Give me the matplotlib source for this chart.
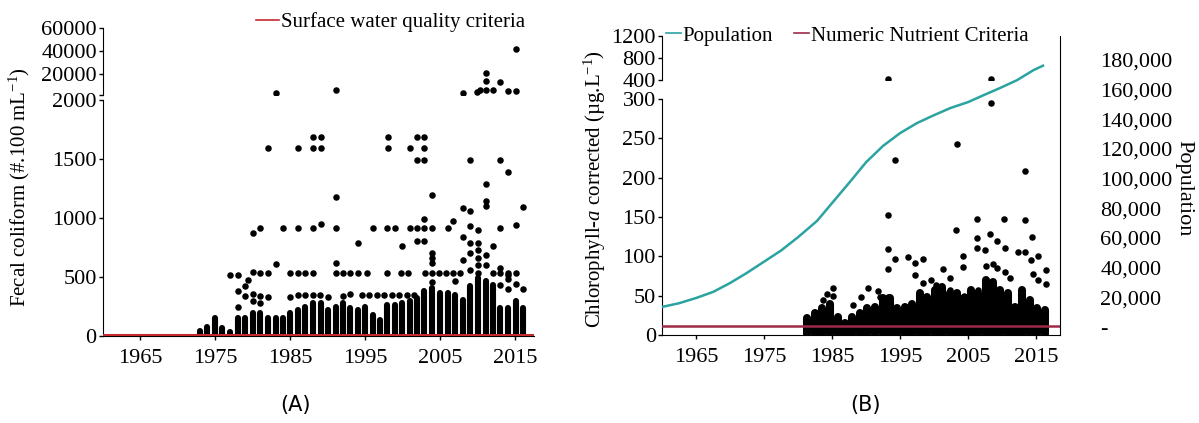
import matplotlib
matplotlib.use("Agg")
import matplotlib.pyplot as plt
from matplotlib.lines import Line2D
from matplotlib.ticker import FuncFormatter

plt.rcParams['font.family'] = ['Liberation Serif', 'DejaVu Serif']
plt.rcParams['mathtext.fontset'] = 'custom'
plt.rcParams['mathtext.rm'] = 'Liberation Serif'
plt.rcParams['mathtext.it'] = 'Liberation Serif:italic'

W, H = 1199, 423

# ---- panel A : fecal coliform ----
fc_criteria = 10
# dense stacks of samples, top of each yearly column
fc_col_year = [1972.9, 1973.9, 1974.9, 1975.9, 1976.9, 1978.0, 1978.9, 1980.0, 1980.9, 1982.0,
               1983.1, 1984.0, 1984.9, 1986.0, 1986.9, 1988.0, 1989.1, 1990.0, 1991.1, 1992.0,
               1992.9, 1994.0, 1994.9, 1996.0, 1996.9, 1997.9, 1998.9, 1999.9, 2000.9, 2001.9,
               2002.8, 2003.9, 2004.9, 2006.0, 2006.9, 2008.0, 2008.9, 2010.0, 2011.1, 2012.0,
               2012.9, 2014.0, 2015.1, 2016.0]
fc_col_top = [40, 75, 150, 70, 30, 150, 150, 195, 195, 150,
              150, 150, 195, 220, 245, 280, 280, 220, 245, 280,
              235, 220, 245, 178, 135, 262, 262, 280, 296, 322,
              381, 406, 364, 364, 347, 305, 423, 491, 466, 432,
              237, 237, 296, 237]
# single samples standing out above the stacks
fc_year = [1983.1, 1991.1, 2015.1, 2011.1, 2011.1, 2008.0, 2009.9, 2010.3, 2011.1, 2012.0,
           2012.9, 2014.0, 2015.1,
           1988.0, 1989.1, 1998.0, 2001.9, 2002.8,
           1982.0, 1986.0, 1988.0, 1989.1, 1998.0, 2000.9, 2002.8,
           2001.9, 2002.8, 2008.9, 2012.9,
           2014.0, 2011.1, 1991.1, 2003.9, 2011.1, 2011.1, 2008.0, 2008.9, 2016.0, 2015.1,
           1980.0, 1980.9, 1984.0, 1986.0, 1988.0, 1989.1, 1991.1, 1996.0, 1997.9, 1998.9,
           2000.9, 2001.9, 2002.8, 2003.9, 2006.0, 2012.9,
           2002.8, 2006.7, 2008.9, 2010.0,
           1994.0, 1999.9, 2001.9, 2002.8, 2008.0, 2008.9, 2012.0,
           1983.1, 1991.1,
           1976.9, 1978.0, 1980.0, 1980.9, 1982.0, 1984.9, 1986.0, 1986.9, 1988.0, 1991.1,
           1992.0, 1992.9, 1994.0, 1995.2, 1997.9, 1999.7, 2000.7, 2002.9, 2003.9, 2004.8,
           2005.7, 2006.7, 2007.6, 2008.9, 2010.0, 2012.0, 2012.9, 2014.0, 2015.1,
           2003.9, 2003.9, 2003.9, 2003.9, 2010.0, 2010.0, 2010.0, 2010.0, 2011.1, 2011.1,
           2012.9, 2012.9, 2014.0, 2014.0, 2014.0, 2008.0, 2008.9,
           1978.0, 1978.9, 1978.9, 1980.0, 1980.0, 1980.9, 1980.9, 1982.0, 1978.0, 1979.4,
           1986.0, 1987.0, 1988.0, 1989.0, 1990.0, 1994.5, 1995.5, 1996.5, 1997.5, 1998.5,
           1999.5, 2000.5, 2001.5, 1984.9, 1992.0, 1993.0, 2006.9, 2015.1, 2016.0]
fc_val = [3700, 6300, 42000, 21000, 14000, 3700, 4600, 6300, 6300, 6300,
          13000, 5500, 5500,
          1685, 1685, 1685, 1685, 1685,
          1592, 1592, 1592, 1592, 1592, 1592, 1592,
          1490, 1490, 1490, 1490,
          1390, 1290, 1180, 1195, 1143, 1100, 1084, 1058, 1093, 940,
          870, 915, 915, 915, 915, 950, 915, 915, 915, 915,
          915, 915, 915, 915, 915, 915,
          990, 975, 930, 898,
          790, 762, 805, 805, 840, 790, 762,
          610, 615,
          520, 520, 540, 534, 534, 534, 534, 534, 534, 534,
          534, 534, 534, 534, 534, 534, 534, 534, 534, 534,
          534, 534, 534, 560, 534, 534, 534, 534, 534,
          460, 620, 660, 700, 600, 660, 730, 790, 600, 690,
          430, 575, 400, 480, 520, 640, 700,
          380, 420, 340, 300, 360, 340, 280, 330, 250, 475,
          347, 347, 347, 347, 330, 347, 347, 347, 347, 347,
          347, 347, 347, 330, 340, 360, 470, 440, 400]

# ---- panel B : chlorophyll-a and population ----
chl_criteria = 11
chl_col_year = [1981.3, 1982.5, 1983.5, 1984.7, 1985.9, 1986.9, 1987.9, 1989.1, 1990.1, 1991.3,
                1992.5, 1993.5, 1994.6, 1995.7, 1996.8, 1997.9, 1999.0, 2000.1, 2001.2, 2002.4,
                2003.4, 2004.4, 2005.4, 2006.5, 2007.6, 2008.7, 2009.7, 2010.9, 2011.9, 2012.9,
                2014.1, 2015.1, 2016.3]
chl_col_top = [21, 28, 34, 40, 23, 15, 23, 28, 34, 35,
               47, 47, 34, 35, 40, 53, 48, 57, 61, 53,
               53, 47, 57, 53, 70, 67, 57, 53, 35, 57,
               44, 34, 32]
chl_year = [1993.2, 2008.4, 2008.4, 2003.4, 1994.3, 2013.4, 1993.2, 2006.3, 2010.3, 2013.4,
            2003.2, 1993.2, 1993.2, 1994.3, 1996.2, 1997.2, 1998.4, 1997.2, 1998.4, 2001.3,
            2002.4, 2004.3, 2004.3, 2006.3, 2006.3, 2007.5, 2008.2, 2009.3, 2010.4, 2012.4,
            2013.4, 2014.4, 2015.3, 2016.5, 2016.5, 1985.1, 1985.1, 1990.3, 1989.3, 1988.1,
            1992.1, 1993.2, 2002.4, 2003.4, 2004.4, 2005.4, 2006.5, 1983.6, 1984.3, 1991.8,
            2008.7, 2009.3, 2010.4, 2011.2, 2014.2, 2014.6, 2015.3, 1999.5, 2000.3, 2007.6]
chl_val = [420, 410, 295, 243, 223, 208, 152, 148, 148, 146,
           134, 109, 84, 96, 99, 92, 96, 76, 66, 84,
           72, 101, 87, 123, 110, 108, 129, 120, 110, 106,
           106, 125, 101, 82, 65, 60, 49, 60, 48, 38,
           48, 48, 57, 53, 50, 52, 57, 45, 52, 56,
           90, 85, 80, 72, 95, 78, 70, 70, 64, 88]
pop_year = [1960, 1962.5, 1965, 1967.5, 1970, 1972.5, 1975, 1977.5, 1980, 1982.8,
            1985, 1987.6, 1990, 1992.5, 1995, 1997.5, 2000, 2002.4, 2005, 2007.2,
            2009.7, 2012.2, 2014.6, 2016]
pop_val = [13500, 16000, 19500, 23600, 29600, 36500, 44000, 51500, 60500, 71500,
           83500, 97600, 111000, 122000, 130600, 137400, 142700, 147500, 151500, 156000,
           161000, 166300, 173000, 176000]

year_ticks = [1965, 1975, 1985, 1995, 2005, 2015]
pop_ticks = [0, 20000, 40000, 60000, 80000, 100000, 120000, 140000, 160000, 180000]

dot_size = 22
teal = '#2aa3a1'
red_a = '#c42a2e'
red_b = '#9e2a48'


def px_axes(fig, x0, y0, x1, y1):
    # axes placed by pixel corners (top-left origin)
    ax = fig.add_axes([x0 / W, 1 - y1 / H, (x1 - x0) / W, (y1 - y0) / H])
    ax.patch.set_visible(False)
    return ax


def style_left(ax):
    for s in ['top', 'right']:
        ax.spines[s].set_visible(False)
    ax.tick_params(axis='y', labelsize=16, length=3, pad=1.5, width=1)
    ax.tick_params(axis='x', labelsize=16, length=3, pad=6, width=1)


def split(xs, ys, cut):
    lo = [(x, y) for x, y in zip(xs, ys) if y <= cut]
    hi = [(x, y) for x, y in zip(xs, ys) if y > cut]
    return list(zip(*lo)), list(zip(*hi))


fig = plt.figure(figsize=(W / 100, H / 100), dpi=100)

# ---------------- panel A ----------------
a_lo = px_axes(fig, 103, 100, 534, 336)
a_hi = px_axes(fig, 103, 28, 534, 95)
fc_lo, fc_hi = split(fc_year, fc_val, 2000)
for ax in (a_lo, a_hi):
    style_left(ax)
    ax.set_xlim(1960, 2017.5)
a_lo.vlines(fc_col_year, 0, fc_col_top, colors='black', linewidth=4.4, capstyle='round', zorder=2)
a_lo.scatter(fc_lo[0], fc_lo[1], s=dot_size, color='black', linewidths=0, zorder=2)
a_hi.scatter(fc_hi[0], fc_hi[1], s=dot_size, color='black', linewidths=0, zorder=2)
a_lo.set_ylim(0, 2000)
a_lo.set_yticks([0, 500, 1000, 1500, 2000])
a_lo.set_xticks(year_ticks)
a_lo.axhline(fc_criteria, color=red_a, linewidth=2.2, zorder=3)
a_hi.set_ylim(2000, 60000)
a_hi.set_yticks([2000, 20000, 40000, 60000])
a_hi.set_yticklabels(['', '20000', '40000', '60000'])
a_hi.spines['bottom'].set_visible(False)
a_hi.set_xticks([])
a_lo.set_ylabel('Fecal coliform (#.100 mL$^{-1}$)', fontsize=15)
a_lo.yaxis.set_label_coords(-0.165, 0.63)
fig.legend([Line2D([], [], color=red_a, linewidth=1.2)], ['Surface water quality criteria'],
           loc='center left', bbox_to_anchor=(256 / W, 1 - 22 / H),
           frameon=False, fontsize=15, handlelength=1.1, handletextpad=0.1, borderpad=0, borderaxespad=0)

# ---------------- panel B ----------------
b_lo = px_axes(fig, 662, 99, 1060, 335)
b_hi = px_axes(fig, 662, 36, 1060, 80)
chl_lo, chl_hi = split(chl_year, chl_val, 300)
for ax in (b_lo, b_hi):
    style_left(ax)
    ax.set_xlim(1960, 2018.5)
b_lo.vlines(chl_col_year, 1, chl_col_top, colors='black', linewidth=5.8, capstyle='round', zorder=2)
b_lo.scatter(chl_lo[0], chl_lo[1], s=dot_size, color='black', linewidths=0, zorder=2)
b_hi.scatter(chl_hi[0], chl_hi[1], s=dot_size, color='black', linewidths=0, zorder=2)
b_lo.set_ylim(0, 300)
b_lo.set_yticks([0, 50, 100, 150, 200, 250, 300])
b_lo.set_xticks(year_ticks)
b_lo.axhline(chl_criteria, color=red_b, linewidth=1.8, zorder=3)
b_hi.set_ylim(400, 1200)
b_hi.set_yticks([400, 800, 1200])
b_hi.spines['bottom'].set_visible(False)
b_hi.set_xticks([])
b_lo.set_ylabel('Chlorophyll-$a$ corrected (µg.L$^{-1}$)', fontsize=15)
b_lo.yaxis.set_label_coords(-0.135, 0.62)

b_pop = px_axes(fig, 662, 36, 1060, 335)
for s in ['top', 'left', 'bottom']:
    b_pop.spines[s].set_visible(False)
b_pop.set_xlim(1960, 2018.5)
b_pop.set_ylim(-5400, 196000)
b_pop.plot(pop_year, pop_val, color=teal, linewidth=1.8, zorder=4)
b_pop.set_xticks([])
b_pop.yaxis.tick_right()
b_pop.set_yticks(pop_ticks)
b_pop.yaxis.set_major_formatter(FuncFormatter(lambda v, p: '-' if v == 0 else '{:,}'.format(int(v))))
b_pop.tick_params(axis='y', length=0, pad=29, labelsize=16)
fig.text(1184 / W, 1 - 188 / H, 'Population', rotation=270, ha='center', va='center', fontsize=16)

fig.legend([Line2D([], [], color=teal, linewidth=1.2), Line2D([], [], color=red_b, linewidth=1.2)],
           ['Population', 'Numeric Nutrient Criteria'], ncol=2,
           loc='center left', bbox_to_anchor=(666 / W, 1 - 36 / H),
           frameon=False, fontsize=15, handlelength=0.7, handletextpad=0.1, columnspacing=1.0,
           borderpad=0, borderaxespad=0)

# panel letters
fig.text(295 / W, 1 - 405 / H, '(A)', family='DejaVu Sans', fontsize=15, ha='center', va='center')
fig.text(866 / W, 1 - 405 / H, '(B)', family='DejaVu Sans', fontsize=15, ha='center', va='center')

fig.savefig('out.png', dpi=100)
